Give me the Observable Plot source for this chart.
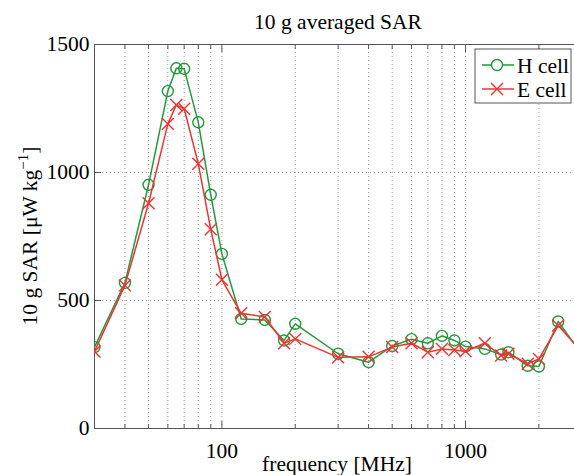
<!DOCTYPE html>
<html><head><meta charset="utf-8">
<script src="https://cdn.jsdelivr.net/npm/d3@7"></script>
<script src="https://cdn.jsdelivr.net/npm/@observablehq/plot@0.6"></script>
<style>html,body{margin:0;padding:0;background:#fff;overflow:hidden}</style>
</head><body><div id="chart"></div>
<script>
// frequency [MHz]
const freq  = [30, 40, 50, 60, 65, 70, 80, 90, 100, 120, 150, 180, 200, 300, 400, 500, 600, 700, 800, 900, 1000, 1200, 1400, 1500, 1800, 2000, 2400, 3000];
// 10 g SAR [uW/kg]
const hCell = [318, 569, 952, 1318, 1407, 1405, 1196, 913, 682, 428, 424, 344, 409, 292, 259, 322, 349, 333, 362, 344, 320, 311, 289, 298, 245, 242, 418, 290];
const eCell = [301, 559, 880, 1190, 1264, 1249, 1034, 778, 581, 450, 436, 333, 350, 278, 280, 318, 333, 298, 311, 307, 302, 333, 285, 292, 253, 272, 402, 300];
const seriesNames = ["H cell", "E cell"];
const yTicks = [0, 500, 1000, 1500];
const xLabelTicks = [100, 1000];
const xMinor = [40, 50, 60, 70, 80, 90, 200, 300, 400, 500, 600, 700, 800, 900, 2000];
const yGrid = [500, 1000];
const titleText = "10 g averaged SAR";
const xLabel = "frequency [MHz]";

const green = "#22993a", red = "#f03232", axisColor = "#555", gridColor = "#9a9a9a";
const font = "Liberation Serif";
const fs = 21.5;
const rows = freq.map((f, i) => ({f, h: hCell[i], e: eCell[i]}));

const chart = Plot.plot({
  width: 574, height: 475,
  marginLeft: 94, marginRight: 0, marginTop: 44, marginBottom: 47,
  style: {fontFamily: font, fontSize: fs + "px", background: "#fff", color: "#000"},
  x: {type: "log", domain: [30, 2800], axis: null},
  y: {domain: [0, 1500], axis: null},
  marks: [
    Plot.ruleX(xMinor.concat(xLabelTicks), {stroke: gridColor, strokeDasharray: "1,3", strokeWidth: 1}),
    Plot.ruleY(yGrid, {stroke: gridColor, strokeDasharray: "1,3", strokeWidth: 1}),
    Plot.ruleY([0, 1500], {stroke: axisColor, strokeWidth: 1}),
    Plot.ruleX([30], {stroke: axisColor, strokeWidth: 1}),
    Plot.axisX({anchor: "bottom", ticks: xMinor, tickSize: -4, tickFormat: () => "", stroke: axisColor, label: null}),
    Plot.axisX({anchor: "top", ticks: xMinor, tickSize: -4, tickFormat: () => "", stroke: axisColor, label: null}),
    Plot.axisX({anchor: "bottom", ticks: xLabelTicks, tickSize: -7, tickFormat: () => "", stroke: axisColor, label: null}),
    Plot.axisX({anchor: "top", ticks: xLabelTicks, tickSize: -7, tickFormat: () => "", stroke: axisColor, label: null}),
    Plot.axisX({anchor: "bottom", ticks: xLabelTicks, tickSize: 0, tickPadding: 14, tickFormat: d3.format("d"), label: null, fill: "#000", fontSize: fs}),
    Plot.axisY({anchor: "left", ticks: yTicks, tickSize: -7, tickFormat: () => "", stroke: axisColor, label: null}),
    Plot.axisY({anchor: "left", ticks: yTicks, tickSize: 0, tickPadding: 5, tickFormat: d3.format("d"), label: null, fill: "#000", fontSize: fs}),
    Plot.line(rows, {x: "f", y: "h", stroke: green, strokeWidth: 1.5, clip: true}),
    Plot.dot(rows, {x: "f", y: "h", r: 5.5, stroke: green, strokeWidth: 1.4, fill: "none", clip: true}),
    Plot.line(rows, {x: "f", y: "e", stroke: red, strokeWidth: 1.5, clip: true}),
    Plot.dot(rows, {x: "f", y: "e", r: 5.5, symbol: "times", stroke: red, strokeWidth: 1.4, clip: true})
  ]
});
document.getElementById("chart").appendChild(chart);

const svg = d3.select(chart);
svg.append("text").attr("x", 338).attr("y", 29).attr("text-anchor", "middle")
  .attr("font-size", fs).text(titleText);
svg.append("text").attr("x", 337).attr("y", 471).attr("text-anchor", "middle")
  .attr("font-size", fs).text(xLabel);
const yl = svg.append("text").attr("transform", "translate(37,236) rotate(-90)").attr("text-anchor", "middle")
  .attr("font-size", fs);
yl.append("tspan").text("10 g SAR [\u03bcW kg");
yl.append("tspan").attr("dy", -9).attr("font-size", 15).text("\u22121");
yl.append("tspan").attr("dy", 9).text("]");

// legend
const lg = svg.append("g");
lg.append("rect").attr("x", 475).attr("y", 49).attr("width", 96).attr("height", 54)
  .attr("fill", "#fff").attr("stroke", axisColor);
const colors = [green, red];
seriesNames.forEach((name, i) => {
  const cy = 65 + i * 24;
  lg.append("line").attr("x1", 482).attr("x2", 514).attr("y1", cy).attr("y2", cy)
    .attr("stroke", colors[i]).attr("stroke-width", 1.5);
  lg.append("path").attr("transform", `translate(497,${cy})`)
    .attr("d", d3.symbol(i === 0 ? d3.symbolCircle : d3.symbolTimes, Math.PI * 5.5 * 5.5)())
    .attr("fill", i === 0 ? "#fff" : "none").attr("stroke", colors[i]).attr("stroke-width", 1.4);
  lg.append("text").attr("x", 517).attr("y", cy).attr("dy", "0.35em").attr("text-anchor", "start")
    .attr("font-size", fs).text(name);
});
svg.selectAll("text").style("font-family", "'Liberation Serif', serif").style("fill", "#000");
svg.selectAll("text").filter(function () { return !this.getAttribute("font-size"); })
  .style("font-size", fs + "px");
</script></body></html>
